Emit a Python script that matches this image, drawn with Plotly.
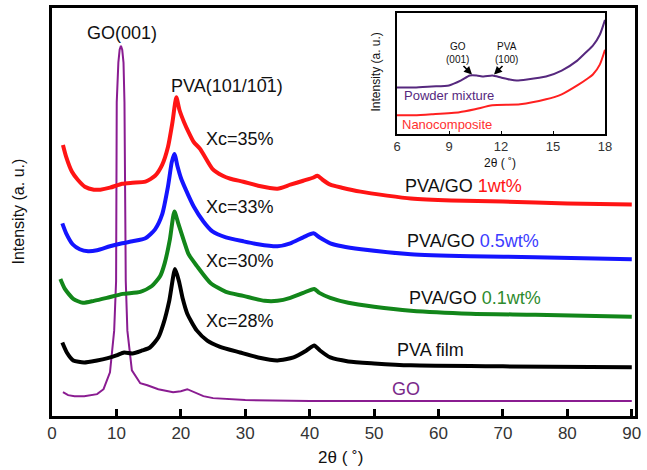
import plotly.graph_objects as go

# ---------------- main panel data (2θ in degrees, intensity in arbitrary units) ----------------
tt_red = [1.7, 2.2, 3.1, 4, 5.1, 6.5, 7.5, 9, 10.9, 12.5, 14.5, 16, 17.1, 18, 18.7, 19.3, 19.8, 20.5, 21.2, 22,
          23, 24.9, 26.5, 27.7, 29.7, 32, 35, 37, 39, 40.5, 41.2, 42, 43.2, 45, 47.9, 52, 55.7, 62, 70, 80, 90]
i_red = [273, 261, 246, 238, 231, 228, 228, 230, 234, 235, 236, 242, 253, 271, 296, 321, 308, 296, 286, 276,
         269, 249, 242, 239, 236, 232, 229, 233, 237, 240, 242, 238, 233, 230, 226, 222, 219, 217, 216, 214, 213]

tt_blue = [1.6, 2.2, 3.2, 4.3, 5.6, 7, 9, 10.9, 12.5, 14.5, 16, 17.1, 18, 18.6, 19.0, 19.5, 20.0, 20.7, 22,
           23.5, 24.9, 27, 29.7, 32, 35, 37, 39, 40.6, 41.5, 43.2, 45, 48, 55.7, 65, 75, 90]
i_blue = [194, 184, 173, 168, 166, 167, 171, 174, 176, 179, 188, 203, 231, 256, 264, 251, 240, 229, 211,
          196, 186, 180, 176, 173, 171, 174, 180, 184, 180, 174, 171, 168, 163, 161, 160, 158]

tt_green = [1.3, 2, 3.3, 4.8, 6.5, 8.5, 11, 13.7, 15.5, 16.8, 17.5, 18.3, 19.0, 19.6, 20.5, 21.2, 22.5, 24.6,
            27, 29.7, 33, 35, 37, 39, 40.7, 41.5, 43.2, 46, 50, 55.7, 65, 75, 90]
i_green = [138, 128, 118, 114, 116, 119, 123, 125, 131, 141, 154, 178, 206, 194, 176, 163, 151, 134,
           125, 121, 116, 116, 119, 124, 128, 124, 119, 114, 110, 106, 103, 102, 100]

tt_black = [1.6, 2.3, 3.3, 5, 7, 8.5, 10, 11.2, 12.5, 14, 15.2, 16.5, 17.3, 18.2, 19.1, 19.7, 20.3, 21, 22.5,
            24.1, 26, 29.2, 32, 35, 37.5, 39.5, 40.7, 41.6, 43.2, 46, 50, 55.7, 70, 90]
i_black = [74, 64, 56, 54, 56, 58, 61, 64, 63, 66, 69, 79, 93, 116, 148, 136, 118, 103, 86,
           76, 70, 64, 59, 56, 59, 66, 71, 66, 59, 55, 53, 51, 50, 49]

tt_go = [1.7, 2.5, 3.5, 5, 7, 8, 9.0, 9.65, 9.95, 10.05, 10.3, 10.5, 10.7, 10.9, 11.1, 11.25, 11.45, 11.7,
         12.4, 13.7, 14.8, 16.5, 18.8, 20, 21, 22, 23.5, 25, 30, 40, 60, 90]
i_go = [24, 21, 20, 20, 22, 27, 44, 86, 136, 316, 356, 369, 373, 369, 356, 316, 136, 86,
        46, 33, 31, 27, 24, 25, 27, 24, 20, 18, 16, 15, 15, 15]

x_ticks = [0, 10, 20, 30, 40, 50, 60, 70, 80, 90]

# ---------------- inset data ----------------
tt_mix = [6, 7, 8, 9, 9.7, 10.2, 10.6, 11, 11.5, 12, 12.5, 12.9, 13.5, 14.6, 15.5, 16.4, 17, 17.3, 17.7, 18]
i_mix = [47, 47, 48, 49, 54, 59, 59, 58, 59, 57, 55, 54, 55, 58, 64, 74, 84, 89, 100, 115]
tt_nano = [6, 7, 8, 9.6, 10.5, 11.5, 13.1, 14.6, 15.5, 16.4, 17, 17.3, 17.7, 18]
i_nano = [19, 19, 20, 22, 25, 29, 30, 35, 40, 49, 56, 60, 70, 85]
inset_ticks = [6, 9, 12, 15, 18]

# ---------------- layout helpers (pixel -> paper) ----------------
W, H = 647, 470
L, R, T, B = 52, 635, 5, 416


def px(x):
    return (x - L) / (R - L)


def py(y):
    return (B - y) / (B - T)


FONT = "Liberation Sans, Arial, sans-serif"
RED, BLUE, GREEN, BLACK, PURPLE = "#ff1414", "#1414ff", "#12861a", "#000000", "#8a1c91"
MIX = "#56287e"

fig = go.Figure()
lw = 4
sp = dict(shape="spline", smoothing=0.6)
fig.add_trace(go.Scatter(x=tt_go, y=i_go, mode="lines", line=dict(color=PURPLE, width=2), xaxis="x", yaxis="y"))
fig.add_trace(go.Scatter(x=tt_black, y=i_black, mode="lines", line=dict(color=BLACK, width=lw, **sp)))
fig.add_trace(go.Scatter(x=tt_green, y=i_green, mode="lines", line=dict(color=GREEN, width=lw, **sp)))
fig.add_trace(go.Scatter(x=tt_blue, y=i_blue, mode="lines", line=dict(color=BLUE, width=lw, **sp)))
fig.add_trace(go.Scatter(x=tt_red, y=i_red, mode="lines", line=dict(color=RED, width=lw, **sp)))

fig.add_trace(go.Scatter(x=tt_mix, y=i_mix, mode="lines", line=dict(color=MIX, width=2, **sp),
                         xaxis="x2", yaxis="y2"))
fig.add_trace(go.Scatter(x=tt_nano, y=i_nano, mode="lines", line=dict(color="#ff2020", width=2, **sp),
                         xaxis="x2", yaxis="y2"))

ann = []


def text(t, x, y, size=18, color="#111", xanchor="center", angle=0):
    ann.append(dict(text=t, x=px(x), y=py(y), xref="paper", yref="paper", showarrow=False,
                    xanchor=xanchor, yanchor="middle", textangle=angle,
                    font=dict(family=FONT, size=size, color=color)))


text("GO(001)", 122, 30)
text("PVA(101/10\u03051)", 227, 84)
text("Xc=35%", 240, 137)
text("Xc=33%", 240, 205)
text("Xc=30%", 240, 260)
text("Xc=28%", 240, 320)
text("PVA/GO <span style='color:%s'>1wt%%</span>" % RED, 403, 184, xanchor="left")
text("PVA/GO <span style='color:#3c3cff'>0.5wt%</span>", 405, 240, xanchor="left")
text("PVA/GO <span style='color:#2e8b2e'>0.1wt%</span>", 407, 297, xanchor="left")
text("PVA film", 395, 350, xanchor="left")
text("GO", 390, 389, color="#7a2a8a", xanchor="left")
text("2\u03b8 ( \u02da)", 340, 458, size=17)
text("Intensity (a. u.)", 19, 210, size=16, angle=-90)

# inset texts
text("GO<br>(001)", 457, 50, size=10)
text("PVA<br>(100)", 507, 50, size=10)
text("Powder mixture", 402, 93, size=13, color=MIX, xanchor="left")
text("Nanocomposite", 400, 122, size=13, color="#ff3030", xanchor="left")
text("2\u03b8 ( \u02da)", 500, 161, size=12)
text("Intensity (a. u.)", 376, 70, size=12, angle=-90)

for (tx, ty, ax, ay) in [(472, 72, -10, -10), (494, 72, 10, -10)]:
    ann.append(dict(x=px(tx), y=py(ty), xref="paper", yref="paper", text="", showarrow=True,
                    ax=ax, ay=ay, arrowhead=2, arrowsize=1, arrowwidth=1.6, arrowcolor="black"))

fig.update_layout(
    width=W, height=H,
    margin=dict(l=L, r=W - R, t=T, b=H - B),
    paper_bgcolor="white", plot_bgcolor="white",
    showlegend=False,
    font=dict(family=FONT, color="#222"),
    annotations=ann,
    xaxis=dict(range=[0, 90.5], domain=[0, 1], tickvals=x_ticks, ticks="inside", ticklen=7, tickwidth=2.5,
               tickcolor="black", showline=True, linewidth=3, linecolor="black", mirror=True,
               showgrid=False, zeroline=False, tickfont=dict(size=17, color="#333")),
    yaxis=dict(range=[0, 411], domain=[0, 1], showticklabels=False, ticks="", showline=True, linewidth=3,
               linecolor="black", mirror=True, showgrid=False, zeroline=False),
    xaxis2=dict(range=[6, 18], domain=[px(397), px(605)], anchor="y2", tickvals=inset_ticks, ticks="inside",
                ticklen=3, tickwidth=1, tickcolor="black", showline=True, linewidth=1.5, linecolor="black",
                mirror=True, showgrid=False, zeroline=False, tickfont=dict(size=13, color="#333")),
    yaxis2=dict(range=[0, 122], domain=[py(132), py(10)], anchor="x2", showticklabels=False, ticks="",
                showline=True, linewidth=1.5, linecolor="black", mirror=True, showgrid=False, zeroline=False),
)

fig.write_html("out.html")
